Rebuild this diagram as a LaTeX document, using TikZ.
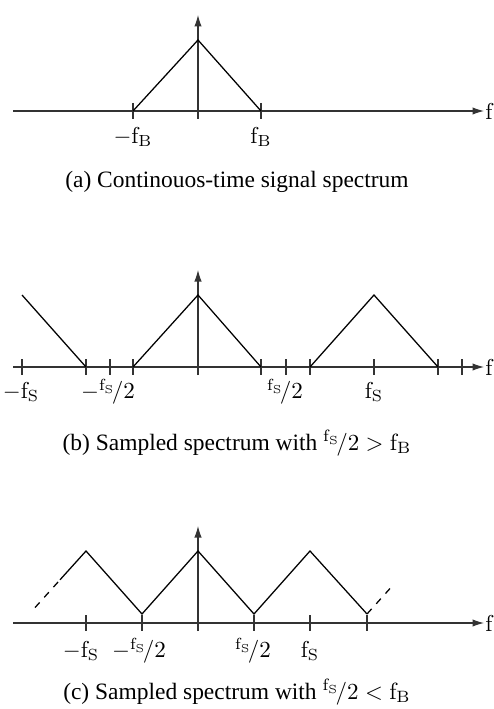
\documentclass[tikz,border=0pt]{standalone}
\usepackage{fontspec}
\newfontfamily\capfont{Liberation Serif}
\usetikzlibrary{arrows.meta}
\newcommand{\fshalf}{{}^{\mathrm{f_S}}\!/2}

\begin{document}
\begin{tikzpicture}[x=0.4348pt, y=-0.4348pt,
  axis/.style={draw=black!80, line width=0.45pt},
  axarr/.style={axis, -{Latex[length=5pt,width=3.2pt]}},
  axtick/.style={axis},
  spec/.style={line width=0.55pt},
  lbl/.style={font=\fontsize{10}{12}\selectfont, inner sep=0pt},
  captxt/.style={font=\capfont\fontsize{10.2}{12}\selectfont, inner sep=0pt}
]
\useasboundingbox (0,0) rectangle (493,709);

% (a) continuous-time spectrum
\draw[axarr] (13,111) -- (484,111);
\draw[axarr] (198,119) -- (198,15);
\draw[axtick] (133,103) -- (133,119);
\draw[axtick] (261,103) -- (261,119);
\draw[spec] (133,111) -- (198,40) -- (261,111);
\node[lbl, anchor=west] (fa) at (485,111) {$\mathrm{f}$};
\node[lbl] (fbl) at (133,137) {$-\mathrm{f_B}$};
\node[lbl] (fbr) at (261,137) {$\mathrm{f_B}$};
\node[captxt] (capa) at (237,182) {(a) Continouos-time signal spectrum};

% (b) sampled, fs/2 > fB
\draw[axarr] (13,367) -- (484,367);
\draw[axarr] (198,375) -- (198,270);
\foreach \x in {22,86,110,133,261,286,310,374,438,462}
  \draw[axtick] (\x,359) -- (\x,375);
\draw[spec] (22,295) -- (86,367);
\draw[spec] (133,367) -- (198,295) -- (261,367);
\draw[spec] (310,367) -- (374,295) -- (438,367);
\node[lbl, anchor=west] (fb) at (485,367) {$\mathrm{f}$};
\node[lbl] (fsl) at (21,392) {$-\mathrm{f_S}$};
\node[lbl] (fshl) at (108,392) {$-\fshalf$};
\node[lbl] (fshr) at (285,392) {$\fshalf$};
\node[lbl] (fsr) at (374,392) {$\mathrm{f_S}$};
\node[captxt] (capb) at (237,443) {(b) Sampled spectrum with $\fshalf > \mathrm{f_B}$};

% (c) sampled, fs/2 < fB
\draw[axarr] (13,623) -- (484,623);
\draw[axarr] (198,631) -- (198,526);
\foreach \x in {86,142,254,310,367}
  \draw[axtick] (\x,615) -- (\x,631);
\draw[spec, dashed] (35,607.6) -- (60,579.8);
\draw[spec] (60,579.8) -- (86,551) -- (142,614) -- (198,551) -- (254,614) -- (310,551) -- (367,614);
\draw[spec, dashed] (367,614) -- (390,588.5);
\node[lbl, anchor=west] (fc) at (485,623) {$\mathrm{f}$};
\node[lbl] (fscl) at (81,651) {$-\mathrm{f_S}$};
\node[lbl] (fshcl) at (139,651) {$-\fshalf$};
\node[lbl] (fshcr) at (253,651) {$\fshalf$};
\node[lbl] (fscr) at (310,651) {$\mathrm{f_S}$};
\node[captxt] (capc) at (237,692) {(c) Sampled spectrum with $\fshalf < \mathrm{f_B}$};
\end{tikzpicture}
\end{document}
